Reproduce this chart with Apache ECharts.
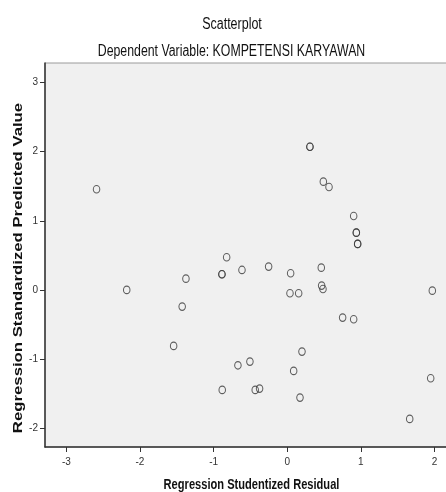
<!DOCTYPE html>
<html>
<head>
<meta charset="utf-8">
<script src="https://cdn.jsdelivr.net/npm/echarts@6/dist/echarts.min.js"></script>
<style>html,body{margin:0;padding:0;background:#fff;}#c{width:446px;height:492px;}</style>
</head>
<body>
<div id="c"></div>
<script>
const titleText = "Scatterplot";
const subtitleText = "Dependent Variable: KOMPETENSI KARYAWAN";
const xAxisName = "Regression Studentized Residual";
const yAxisName = "Regression Standardized Predicted Value";
const xTicks = [-3, -2, -1, 0, 1, 2];
const yTicks = [-2, -1, 0, 1, 2, 3];
const residual = [-2.59, -2.18, -1.376, -0.887, -0.887, -0.823, 0.308, 0.308, 0.49, 0.567, 0.902, 0.938, 0.938, 0.956, 0.956,
  -0.615, -0.253, 0.046, 0.462, 0.467, 0.485, 0.037, 0.155, 1.97, 0.752, 0.902, 0.2, -0.507, -0.67, 0.087,
  -0.883, -0.435, -0.376, 0.173, 1.948, 1.663, -1.427, -1.543];
const predicted = [1.455, 0.0, 0.163, 0.227, 0.227, 0.472, 2.07, 2.07, 1.565, 1.488, 1.069, 0.828, 0.828, 0.665, 0.665,
  0.289, 0.337, 0.241, 0.322, 0.063, 0.014, -0.048, -0.048, -0.01, -0.40, -0.424, -0.891, -1.036, -1.089, -1.17,
  -1.445, -1.445, -1.426, -1.556, -1.276, -1.864, -0.241, -0.809];

const points = residual.map((x, i) => [x, predicted[i]]);
const chart = echarts.init(document.getElementById('c'), null, {renderer: 'canvas'});
const sans = "'Liberation Sans', Arial, sans-serif";
chart.setOption({
  backgroundColor: '#ffffff',
  animation: false,
  graphic: [
    {type: 'text', x: 232, y: 24.5, scaleX: 0.78, silent: true,
     style: {text: titleText, font: 'normal 16px ' + sans, fill: '#111', textAlign: 'center', textVerticalAlign: 'middle'}},
    {type: 'text', x: 231.5, y: 51.5, scaleX: 0.77, silent: true,
     style: {text: subtitleText, font: 'normal 16px ' + sans, fill: '#111', textAlign: 'center', textVerticalAlign: 'middle'}},
    {type: 'text', x: 251.5, y: 485, scaleX: 0.74, silent: true,
     style: {text: xAxisName, font: 'bold 15px ' + sans, fill: '#111', textAlign: 'center', textVerticalAlign: 'middle'}},
    {type: 'text', x: 18.5, y: 268, rotation: Math.PI / 2, scaleX: 1.24, silent: true,
     style: {text: yAxisName, font: 'bold 13.5px ' + sans, fill: '#111', textAlign: 'center', textVerticalAlign: 'middle'}}
  ],
  grid: {left: 45, right: -2, top: 63, bottom: 45, show: true, backgroundColor: '#f0f0f0',
         borderColor: '#9a9a9a', borderWidth: 1, containLabel: false, outerBoundsMode: 'none'},
  xAxis: {
    type: 'value', min: -3.29, max: 2.183,
    splitLine: {show: false},
    axisLine: {show: true, onZero: false, lineStyle: {color: '#333', width: 1.5}},
    axisTick: {show: true, length: 5, customValues: xTicks, lineStyle: {color: '#333'}},
    axisLabel: {customValues: xTicks, fontFamily: sans, fontSize: 10, color: '#333', margin: 10}
  },
  yAxis: {
    type: 'value', min: -2.27, max: 3.28,
    splitLine: {show: false},
    axisLine: {show: true, onZero: false, lineStyle: {color: '#333', width: 1.5}},
    axisTick: {show: true, length: 5, customValues: yTicks, lineStyle: {color: '#333'}},
    axisLabel: {customValues: yTicks, fontFamily: sans, fontSize: 10, color: '#333', margin: 7}
  },
  series: [{
    type: 'scatter',
    data: points,
    symbol: 'circle',
    symbolSize: [6.5, 7.5],
    itemStyle: {color: 'rgba(0,0,0,0)', borderColor: '#3a3a3a', borderWidth: 1.1}
  }]
});
</script>
</body>
</html>
